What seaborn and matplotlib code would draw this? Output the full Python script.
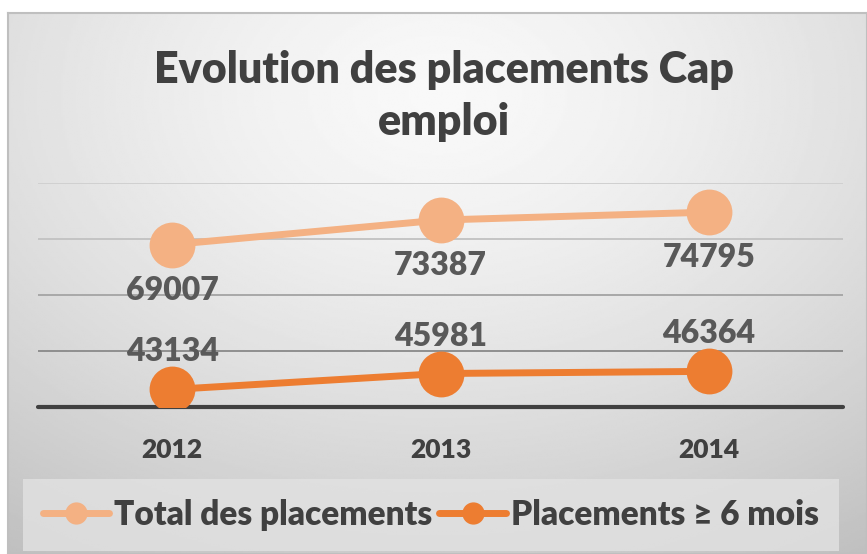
import numpy as np
import pandas as pd
import seaborn as sns
import matplotlib.pyplot as plt

# data
years = ["2012", "2013", "2014"]
total = [69007, 73387, 74795]
plus6 = [43134, 45981, 46364]
series_names = ["Total des placements", "Placements \u2265 6 mois"]

df = pd.DataFrame({
    "annee": years * 2,
    "placements": total + plus6,
    "serie": [series_names[0]] * 3 + [series_names[1]] * 3,
})

sns.set_theme(style="white")
plt.rcParams["font.family"] = ["Lato", "DejaVu Sans"]
W = "heavy"

fig = plt.figure(figsize=(8.67, 5.54), dpi=100)
fig.patch.set_facecolor("white")

# gradient background of the chart frame
bg = fig.add_axes([8 / 867, 0, 859 / 867, 541 / 554], zorder=0)
yy, xx = np.mgrid[0:1:300j, 0:1:400j]
r = np.sqrt(((xx - 0.5) / 0.9) ** 2 + ((yy - 0.15) / 1.0) ** 2)
shade = 0.975 - 0.22 * np.clip(r, 0, 1.2) ** 1.4
bg.imshow(shade, cmap="gray", vmin=0, vmax=1, aspect="auto", extent=[0, 1, 1, 0])
bg.set_xticks([])
bg.set_yticks([])
for s in bg.spines.values():
    s.set_color("#bfbfbf")
    s.set_linewidth(1.5)

ax = fig.add_axes([38 / 867, (554 - 407) / 554, 805 / 867, 224 / 554], zorder=1)
ax.patch.set_alpha(0)

colors = {series_names[0]: "#F4B183", series_names[1]: "#ED7D31"}
sns.lineplot(data=df, x="annee", y="placements", hue="serie", palette=colors,
             marker="o", markersize=33, markeredgewidth=0, linewidth=5,
             ax=ax, legend=False, sort=False, zorder=3)

ax.set_xlim(-0.5, 2.5)
ax.set_ylim(40000, 80000)
for v, c in zip([50000, 60000, 70000, 80000], ["#8f8f8f", "#a8a8a8", "#c4c4c4", "#d0d0d0"]):
    ax.axhline(v, color=c, lw=1.4, zorder=1)
ax.axhline(40000, color="#404040", lw=3, zorder=2, clip_on=False)

for i, v in enumerate(total):
    ax.annotate(str(v), (i, v), xytext=(0, -33), textcoords="offset points",
                ha="center", va="center", fontsize=23, fontweight=W, color="#595959", zorder=4)
for i, v in enumerate(plus6):
    ax.annotate(str(v), (i, v), xytext=(0, 27), textcoords="offset points",
                ha="center", va="center", fontsize=23, fontweight=W, color="#595959", zorder=4)

ax.set_yticks([])
ax.set_xlabel("")
ax.set_ylabel("")
ax.tick_params(axis="x", length=0, pad=22, labelsize=19, labelcolor="#404040")
for lab in ax.get_xticklabels():
    lab.set_fontweight(W)
for s in ax.spines.values():
    s.set_visible(False)

fig.text(0.512, 1 - 96 / 554, "Evolution des placements Cap\nemploi", ha="center", va="center",
         fontsize=31, fontweight=W, color="#404040", linespacing=1.38)

handles = [plt.Line2D([], [], color=colors[n], lw=5, marker="o", markersize=15) for n in series_names]
leg = fig.legend(handles, series_names, loc="center", bbox_to_anchor=(0.497, 1 - 515 / 554),
                 ncol=2, frameon=True, fontsize=24, handlelength=2.0, handletextpad=0.15,
                 columnspacing=0.2, borderpad=0.3)
leg.get_frame().set_facecolor("#e2e2e2")
leg.get_frame().set_edgecolor("none")
leg.get_frame().set_boxstyle("square", pad=0.3)
for t in leg.get_texts():
    t.set_color("#404040")
    t.set_fontweight(W)

fig.savefig("out.png", dpi=100)
